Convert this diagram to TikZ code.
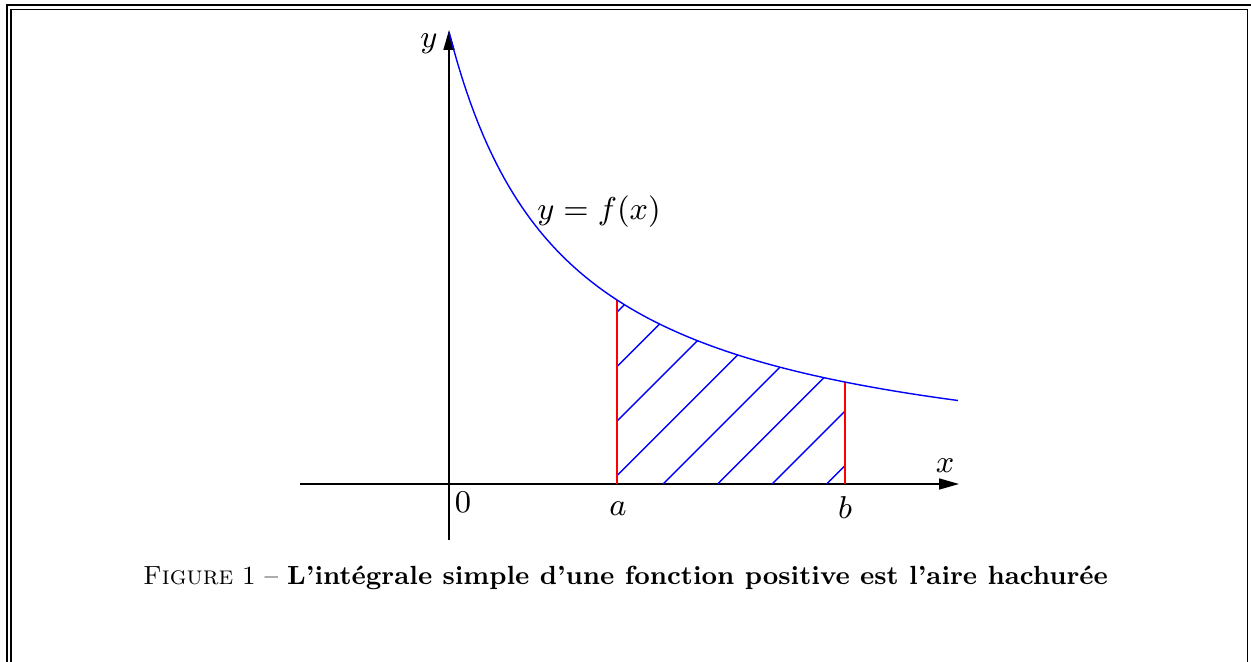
\documentclass[tikz,border=0pt]{standalone}
\usepackage{fontspec}
\usepackage{tikz}
\usetikzlibrary{arrows.meta,calc}
\definecolor{bleuCourbe}{HTML}{0000FF}
\definecolor{rougeBord}{HTML}{FF0000}
\definecolor{noirAxe}{HTML}{000000}
\tikzset{
  axe/.style={-{Triangle[length=2mm,width=1.1mm]}, draw=noirAxe, line width=0.45pt},
  courbe/.style={draw=bleuCourbe, line width=0.4pt},
  bord/.style={draw=rougeBord, line width=0.45pt},
  hachure/.style={draw=bleuCourbe, line width=0.4pt},
  cadre/.style={draw=noirAxe},
  etiquette/.style={font=\fontsize{9.2}{11}\selectfont, inner sep=0pt},
  legende/.style={font=\fontsize{9}{11}\selectfont, inner sep=0pt, scale=0.83, transform shape}
}

\begin{document}
\begin{tikzpicture}[declare function={fonc(\t)=5.213/(\t+1.153);}]
  \clip (-4.49,-1.77) rectangle (8.02,4.84);

  % --- Cadre double
  \draw[cadre, line width=0.7pt]  (-4.42,-2.5) rectangle (8.06,4.79);
  \draw[cadre, line width=0.45pt] (-4.38,-2.5) rectangle (7.985,4.745);

  % --- Axes
  \coordinate (O)  at (0,0);
  \coordinate (xG) at (-1.49,0);
  \coordinate (xD) at (5.10,0);
  \coordinate (yB) at (0,-0.56);
  \coordinate (yH) at (0,4.54);
  \draw[axe] (xG) -- (xD);
  \draw[axe] (yB) -- (yH);
  \node[etiquette] (lx) at (4.96,0.185)  {$x$};
  \node[etiquette] (ly) at (-0.20,4.40)  {$y$};
  \node[etiquette] (l0) at (0.14,-0.18)  {$0$};

  % --- Bornes a et b
  \coordinate (a)  at (1.68,0);
  \coordinate (b)  at (3.96,0);
  \coordinate (fa) at (1.68,{fonc(1.68)});
  \coordinate (fb) at (3.96,{fonc(3.96)});

  % --- Hachures
  \begin{scope}
    \clip (a) -- plot[domain=1.68:3.96, samples=60] (\x,{fonc(\x)}) -- (b) -- cycle;
    \foreach \k in {0,...,8}
      \draw[hachure] ({-0.04+0.545*\k},0) -- ++(4,4);
  \end{scope}
  \draw[bord] (a) -- (fa);
  \draw[bord] (b) -- (fb);
  \node[etiquette] (la) at (1.69,-0.25)  {$a$};
  \node[etiquette] (lb) at (3.96,-0.235) {$b$};

  % --- Courbe
  \draw[courbe] plot[domain=0:5.09, samples=120] (\x,{fonc(\x)});
  \node[etiquette] (lf) at (1.50,2.72) {$y=f(x)$};

  % --- Legende
  \node[legende] (leg) at (1.765,-0.94)
        {\textsc{Figure}~1 -- \textbf{L’intégrale simple d’une fonction positive est l’aire hachurée}};

\end{tikzpicture}
\end{document}
